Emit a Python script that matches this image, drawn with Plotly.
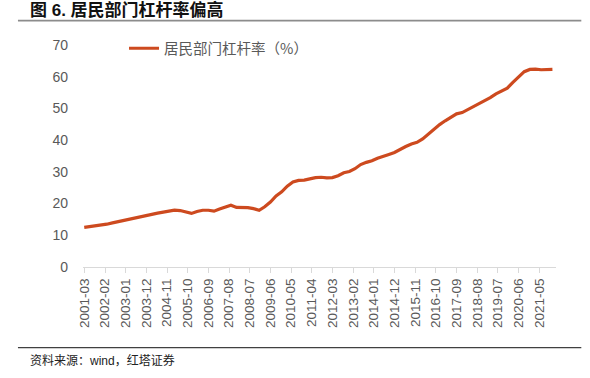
import plotly.graph_objects as go

# ---- data (quarterly readings) ----
dates = [
    "2001-03", "2001-06", "2001-09", "2001-12",
    "2002-03", "2002-06", "2002-09", "2002-12",
    "2003-03", "2003-06", "2003-09", "2003-12",
    "2004-03", "2004-06", "2004-09", "2004-12",
    "2005-03", "2005-06", "2005-09", "2005-12",
    "2006-03", "2006-06", "2006-09", "2006-12",
    "2007-03", "2007-06", "2007-09", "2007-12",
    "2008-03", "2008-06", "2008-09", "2008-12",
    "2009-03", "2009-06", "2009-09", "2009-12",
    "2010-03", "2010-06", "2010-09", "2010-12",
    "2011-03", "2011-06", "2011-09", "2011-12",
    "2012-03", "2012-06", "2012-09", "2012-12",
    "2013-03", "2013-06", "2013-09", "2013-12",
    "2014-03", "2014-06", "2014-09", "2014-12",
    "2015-03", "2015-06", "2015-09", "2015-12",
    "2016-03", "2016-06", "2016-09", "2016-12",
    "2017-03", "2017-06", "2017-09", "2017-12",
    "2018-03", "2018-06", "2018-09", "2018-12",
    "2019-03", "2019-06", "2019-09", "2019-12",
    "2020-03", "2020-06", "2020-09", "2020-12",
    "2021-03", "2021-06", "2021-09", "2021-12",
]
household_leverage = [
    12.5, 12.7, 12.9, 13.2,
    13.5, 13.9, 14.3, 14.7,
    15.2, 15.6, 16.0, 16.4,
    16.7, 17.0, 17.3, 17.5,
    17.9, 17.8, 17.4, 16.9,
    17.5, 17.9, 17.9, 17.6,
    18.3, 18.9, 19.5, 18.8,
    18.8, 18.7, 18.4, 17.9,
    19.0, 20.5, 22.4, 23.7,
    25.5, 26.8, 27.3, 27.4,
    27.8, 28.2, 28.3, 28.1,
    28.2, 28.8, 29.7, 30.1,
    31.0, 32.3, 33.0, 33.5,
    34.3, 35.0, 35.5, 36.1,
    37.1, 38.0, 38.8, 39.3,
    40.4, 42.0, 43.5, 44.9,
    46.1, 47.2, 48.3, 48.7,
    49.6, 50.6, 51.6, 52.3,
    53.4, 54.6, 55.5, 56.4,
    58.2, 60.0, 61.6, 62.3,
    62.4, 62.2, 62.2, 62.3,
]
tick_labels = [
    "2001-03", "2002-02", "2003-01", "2003-12", "2004-11", "2005-10",
    "2006-09", "2007-08", "2008-07", "2009-06", "2010-05", "2011-04",
    "2012-03", "2013-02", "2014-01", "2014-12", "2015-11", "2016-10",
    "2017-09", "2018-08", "2019-07", "2020-06", "2021-05",
]
y_ticks = [0, 10, 20, 30, 40, 50, 60, 70]
series_name = "居民部门杠杆率（%）"
title_text = "图 6. 居民部门杠杆率偏高"
source_text = "资料来源：wind，红塔证券"

# ---- layout geometry (pixels) ----
W, H = 590, 378
L, R, T, B = 83, 555.7, 45, 266.7
pw, ph = R - L, B - T


def px_x(x):
    return (x - L) / pw


def px_y(y):
    return (B - y) / ph


LATIN_CJK = "Liberation Sans, Arial, Noto Sans CJK SC, sans-serif"
GREY_TXT = "#595959"
LINE_COLOR = "#CD4A1F"

fig = go.Figure()
fig.add_trace(go.Scatter(
    x=dates, y=household_leverage, mode="lines", name=series_name,
    line=dict(color=LINE_COLOR, width=3.2),
))

fig.update_layout(
    width=W, height=H,
    margin=dict(l=L, r=W - R, t=T, b=H - B, autoexpand=False),
    paper_bgcolor="white", plot_bgcolor="white",
    showlegend=True,
    legend=dict(
        x=px_x(124), xanchor="left", y=px_y(48.3), yanchor="middle",
        bgcolor="rgba(0,0,0,0)", borderwidth=0,
        font=dict(family="Noto Sans CJK SC, sans-serif", size=14.5, color=GREY_TXT),
    ),
    xaxis=dict(
        type="date",
        range=["2001-02-09", "2022-01-28"],
        tickmode="array", tickvals=tick_labels, ticktext=tick_labels,
        tickangle=-90,
        tickfont=dict(family=LATIN_CJK, size=13.5, color=GREY_TXT),
        showgrid=False, zeroline=False,
        showline=True, linecolor="#D9D9D9", linewidth=1.2,
        ticks="outside", ticklen=5, tickcolor="#D9D9D9", tickwidth=1,
    ),
    yaxis=dict(
        range=[0, 70], tickmode="array", tickvals=y_ticks,
        tickfont=dict(family=LATIN_CJK, size=14, color=GREY_TXT),
        showgrid=False, zeroline=False, showline=False,
        ticks="", ticklabelstandoff=14,
    ),
    shapes=[
        dict(type="line", xref="paper", yref="paper",
             x0=px_x(18), x1=px_x(581), y0=px_y(20.7), y1=px_y(20.7),
             line=dict(color="#8C8C8C", width=1.8)),
        dict(type="line", xref="paper", yref="paper",
             x0=px_x(18), x1=px_x(581), y0=px_y(347.3), y1=px_y(347.3),
             line=dict(color="#404040", width=1.3)),
    ],
    annotations=[
        dict(text="<b>" + title_text + "</b>", xref="paper", yref="paper",
             x=px_x(28), y=px_y(10), xanchor="left", yanchor="middle",
             showarrow=False,
             font=dict(family=LATIN_CJK, size=17, color="#111111")),
        dict(text=source_text, xref="paper", yref="paper",
             x=px_x(28), y=px_y(360), xanchor="left", yanchor="middle",
             showarrow=False,
             font=dict(family=LATIN_CJK, size=12, color="#222222")),
    ],
)

fig.write_html("out.html", config={"displayModeBar": False},
               post_script="document.body.style.margin='0';")
